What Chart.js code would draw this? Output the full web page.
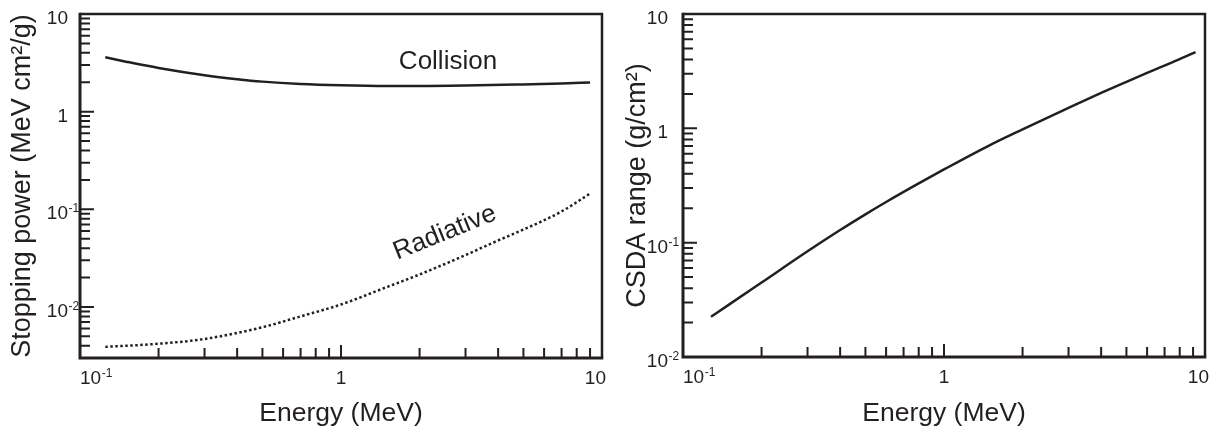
<!DOCTYPE html>
<html>
<head>
<meta charset="utf-8">
<script src="https://cdn.jsdelivr.net/npm/chart.js@4.4.1/dist/chart.umd.min.js"></script>
<style>
  html, body { margin: 0; padding: 0; background: #fff; }
  #wrap { position: relative; width: 1215px; height: 431px; }
  canvas { position: absolute; top: 0; }
</style>
</head>
<body>
<div id="wrap">
  <canvas id="stopping" width="607" height="431" style="left:0"></canvas>
  <canvas id="csda" width="608" height="431" style="left:607px"></canvas>
</div>
<script>
// energies in MeV
var collisionEnergy = [0.125, 0.15, 0.2, 0.3, 0.4, 0.5, 0.7, 1.0, 1.5, 2.0, 3.0, 5.0, 7.0, 9.0];
var collisionPower  = [3.6, 3.25, 2.8, 2.36, 2.15, 2.03, 1.92, 1.86, 1.83, 1.83, 1.85, 1.9, 1.94, 1.99];

var radiativeEnergy = [0.125, 0.2, 0.3, 0.5, 0.7, 1.0, 1.5, 2.0, 3.0, 4.0, 5.0, 7.0, 9.0];
var radiativePower  = [0.0039, 0.0042, 0.0047, 0.0062, 0.008, 0.0106, 0.016, 0.0215, 0.034, 0.048, 0.062, 0.095, 0.145];

var rangeEnergy = [0.128, 0.15, 0.2, 0.3, 0.4, 0.5, 0.6, 0.8, 1.0, 1.5, 2.0, 3.0, 4.0, 5.0, 6.0, 8.0, 9.2];
var csdaRange   = [0.0225, 0.0287, 0.0448, 0.084, 0.129, 0.177, 0.227, 0.33, 0.437, 0.714, 0.98, 1.51, 2.04, 2.55, 3.05, 4.03, 4.65];

// tick labels (base text + superscript)
var energyTickValues = [0.1, 1, 10];
var energyTickText   = ['10', '1', '10'];
var energyTickSup    = ['-1', '', ''];

var stoppingTickValues = [0.01, 0.1, 1, 10];
var stoppingTickText   = ['10', '10', '1', '10'];
var stoppingTickSup    = ['-2', '-1', '', ''];

var rangeTickValues = [0.01, 0.1, 1, 10];
var rangeTickText   = ['10', '10', '1', '10'];
var rangeTickSup    = ['-2', '-1', '', ''];

var FONT = '"Liberation Sans", Arial, Helvetica, sans-serif';
var INK = '#231f20';

function points(xs, ys) {
    return xs.map(function (x, i) { return { x: x, y: ys[i] }; });
}

// frame, inward log ticks and superscript labels
var logFrame = {
    id: 'logFrame',
    afterDraw: function (chart, args, opts) {
        var ctx = chart.ctx, a = chart.chartArea;
        var xs = chart.scales.x, ys = chart.scales.y;
        ctx.save();
        ctx.strokeStyle = INK;
        ctx.lineCap = 'butt';

        ctx.lineWidth = 2.5;
        ctx.beginPath();
        ctx.moveTo(a.left, a.top); ctx.lineTo(a.right, a.top); ctx.lineTo(a.right, a.bottom);
        ctx.stroke();
        ctx.lineWidth = 3;
        ctx.beginPath();
        ctx.moveTo(a.left, a.top - 1.25); ctx.lineTo(a.left, a.bottom); ctx.lineTo(a.right + 1.25, a.bottom);
        ctx.stroke();

        ctx.lineWidth = 2;
        function eachTick(scale, fn) {
            var lo = Math.floor(Math.log10(scale.min)), hi = Math.ceil(Math.log10(scale.max));
            for (var d = lo; d <= hi; d++) {
                for (var m = 1; m <= 9; m++) {
                    var v = m * Math.pow(10, d);
                    if (v < scale.min * 0.999 || v > scale.max * 1.001) continue;
                    fn(scale.getPixelForValue(v), m === 1);
                }
            }
        }
        ctx.beginPath();
        eachTick(ys, function (p, major) {
            ctx.moveTo(a.left, p); ctx.lineTo(a.left + (major ? 14 : 10), p);
        });
        eachTick(xs, function (p, major) {
            ctx.moveTo(p, a.bottom); ctx.lineTo(p, a.bottom - (major ? 13 : 10));
        });
        ctx.stroke();

        ctx.fillStyle = INK;
        ctx.textBaseline = 'alphabetic';
        function label(base, sup, x0, baseline) {
            ctx.font = '19px ' + FONT;
            ctx.textAlign = 'left';
            ctx.fillText(base, x0, baseline);
            if (sup) {
                var w = ctx.measureText(base).width;
                ctx.font = '12px ' + FONT;
                ctx.fillText(sup, x0 + w + 0.5, baseline - 7);
            }
        }
        function width(base, sup) {
            ctx.font = '19px ' + FONT;
            var w = ctx.measureText(base).width;
            if (sup) { ctx.font = '12px ' + FONT; w += ctx.measureText(sup).width + 0.5; }
            return w;
        }
        // y labels: base right-aligned, superscript trailing
        opts.yValues.forEach(function (v, i) {
            ctx.font = '19px ' + FONT;
            var w = ctx.measureText(opts.yText[i]).width;
            label(opts.yText[i], opts.ySup[i], a.left - opts.yGap - w, ys.getPixelForValue(v) + 10);
        });
        // x labels
        opts.xValues.forEach(function (v, i) {
            var p = xs.getPixelForValue(v);
            var w = width(opts.xText[i], opts.xSup[i]);
            var x0 = i === 0 ? p : (i === opts.xValues.length - 1 ? p + 4 - w : p - w / 2);
            label(opts.xText[i], opts.xSup[i], x0, a.bottom + 25.5);
        });

        // in-plot text
        (opts.notes || []).forEach(function (n) {
            ctx.save();
            ctx.translate(xs.getPixelForValue(n.x), ys.getPixelForValue(n.y));
            ctx.rotate((n.angle || 0) * Math.PI / 180);
            ctx.font = '26px ' + FONT;
            ctx.textAlign = 'center';
            ctx.textBaseline = 'middle';
            ctx.fillText(n.text, 0, 0);
            ctx.restore();
        });
        ctx.restore();
    }
};

function logScales(yMin, yTitle, yWidth, xHeight, yTitlePad) {
    return {
        x: {
            type: 'logarithmic', min: 0.1, max: 10,
            grid: { display: false }, border: { display: false },
            ticks: { display: false },
            title: { display: true, text: 'Energy (MeV)', color: INK,
                     font: { family: FONT, size: 26.5, lineHeight: 1 }, padding: { top: 4 } },
            afterFit: function (s) { s.height = xHeight; }
        },
        y: {
            type: 'logarithmic', min: yMin, max: 10,
            grid: { display: false }, border: { display: false },
            ticks: { display: false },
            title: { display: true, text: yTitle, color: INK,
                     font: { family: FONT, size: 27, lineHeight: 1 }, padding: { top: yTitlePad } },
            afterFit: function (s) { s.width = yWidth; }
        }
    };
}

var lineStyle = {
    borderColor: INK, borderWidth: 2.5, pointRadius: 0,
    cubicInterpolationMode: 'monotone', fill: false
};

new Chart(document.getElementById('stopping'), {
    type: 'line',
    data: {
        datasets: [
            Object.assign({ label: 'Collision', data: points(collisionEnergy, collisionPower) }, lineStyle),
            Object.assign({ label: 'Radiative', data: points(radiativeEnergy, radiativePower),
                            borderDash: [2.5, 2.5] }, lineStyle)
        ]
    },
    options: {
        responsive: false,
        animation: false,
        layout: { padding: { left: 0, right: 5, top: 14, bottom: 0 } },
        scales: logScales(0.003, 'Stopping power (MeV cm\u00B2/g)', 80, 73, 9.5),
        plugins: {
            legend: { display: false },
            tooltip: { enabled: false },
            logFrame: {
                xValues: energyTickValues, xText: energyTickText, xSup: energyTickSup,
                yValues: stoppingTickValues, yText: stoppingTickText, ySup: stoppingTickSup,
                yGap: 12,
                notes: [
                    { text: 'Collision', x: 2.57, y: 3.22 },
                    { text: 'Radiative', x: 2.5, y: 0.0574, angle: -22 }
                ]
            }
        }
    },
    plugins: [logFrame]
});

new Chart(document.getElementById('csda'), {
    type: 'line',
    data: {
        datasets: [
            Object.assign({ label: 'CSDA range', data: points(rangeEnergy, csdaRange) }, lineStyle)
        ]
    },
    options: {
        responsive: false,
        animation: false,
        layout: { padding: { left: 0, right: 10, top: 14, bottom: 0 } },
        scales: logScales(0.01, 'CSDA range (g/cm\u00B2)', 76, 74, 17),
        plugins: {
            legend: { display: false },
            tooltip: { enabled: false },
            logFrame: {
                xValues: energyTickValues, xText: energyTickText, xSup: energyTickSup,
                yValues: rangeTickValues, yText: rangeTickText, ySup: rangeTickSup,
                yGap: 15
            }
        }
    },
    plugins: [logFrame]
});
</script>
</body>
</html>
